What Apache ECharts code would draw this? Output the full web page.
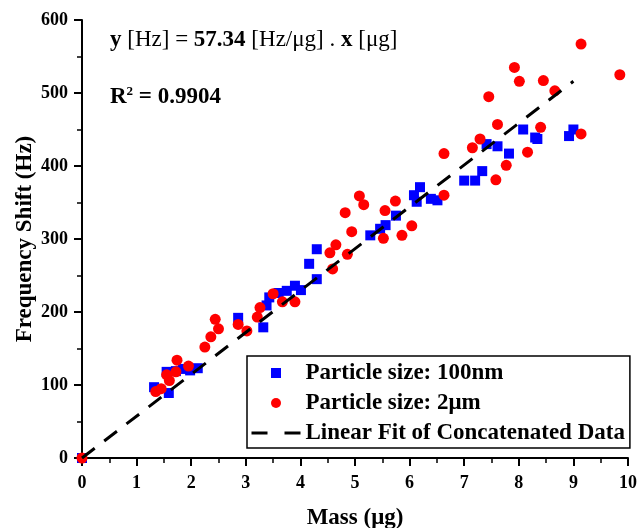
<!DOCTYPE html>
<html>
<head>
<meta charset="utf-8">
<title>Frequency Shift vs Mass</title>
<script src="https://cdn.jsdelivr.net/npm/echarts@6/dist/echarts.min.js"></script>
<style>
  html, body { margin: 0; padding: 0; background: #fff; }
  #chart { width: 638px; height: 528px; }
</style>
</head>
<body>
<div id="chart"></div>
<script>
// Particle size 100 nm: deposited mass (µg) and measured frequency shift (Hz)
const mass100nm = [0, 1.32, 1.59, 1.55, 1.72, 1.85, 1.98, 2.12, 2.86, 3.32,
  3.38, 3.43, 3.60, 3.75, 3.90, 4.01, 4.16, 4.30, 4.30, 5.28,
  5.46, 5.56, 5.75, 6.08, 6.19, 6.13, 6.39, 6.51, 7.00, 7.20,
  7.33, 7.41, 7.61, 7.82, 8.08, 8.30, 8.34, 8.92, 9.00];
const shift100nm = [0, 97, 89, 118, 119, 122, 120, 123, 192, 179,
  209, 220, 226, 229, 236, 230, 266, 286, 245, 305,
  314, 319, 332, 360, 371, 351, 355, 353, 380, 380,
  393, 430, 427, 417, 450, 439, 437, 441, 450];

// Particle size 2 µm
const mass2um = [0, 1.35, 1.45, 1.55, 1.60, 1.72, 1.74, 1.95, 2.25, 2.36,
  2.44, 2.50, 2.86, 3.02, 3.21, 3.26, 3.50, 3.67, 3.90, 4.54,
  4.59, 4.65, 4.82, 4.86, 4.94, 5.08, 5.16, 5.52, 5.55, 5.74,
  5.86, 6.04, 6.63, 6.63, 7.15, 7.29, 7.45, 7.58, 7.61, 7.77,
  7.92, 8.01, 8.16, 8.40, 8.45, 8.66, 9.14, 9.14, 9.85];
const shift2um = [0, 91, 95, 114, 106, 118, 134, 126, 152, 166,
  190, 177, 183, 174, 193, 206, 225, 214, 214, 281,
  259, 292, 336, 279, 310, 359, 347, 301, 339, 352,
  305, 318, 417, 360, 425, 437, 495, 381, 457, 401,
  535, 516, 419, 453, 517, 503, 567, 444, 525];

// Linear fit through the origin of both data sets
const fitSlope = 57.34;       // Hz/µg
const fitRSquared = '0.9904';
const fitMassRange = [0, 9.0]; // µg

const seriesNames = ['Particle size: 100nm', 'Particle size: 2\u03bcm', 'Linear Fit of Concatenated Data'];
const xTicks = { min: 0, max: 10, interval: 1 };
const yTicks = { min: 0, max: 600, interval: 100 };

const zip = (xs, ys) => xs.map((x, i) => [x, ys[i]]);
const fitPoints = fitMassRange.map(m => [m, fitSlope * m]);

const FONT = '"Liberation Serif", "Times New Roman", serif';
const BLUE = '#0000ff';
const RED = '#ff0000';

const axisCommon = {
  axisLine: { show: true, onZero: false, lineStyle: { color: '#000', width: 2 } },
  axisTick: { show: true, inside: false, length: 8, lineStyle: { color: '#000', width: 2 } },
  minorTick: { show: true, splitNumber: 2, length: 5, lineStyle: { color: '#000', width: 1.5 } },
  splitLine: { show: false },
  minorSplitLine: { show: false },
  nameLocation: 'middle',
  nameMoveOverlap: false,
  nameTextStyle: { fontFamily: FONT, fontWeight: 'bold', fontSize: 23, color: '#000' },
  axisLabel: { fontFamily: FONT, fontWeight: 'bold', fontSize: 18, color: '#000' }
};

const chart = echarts.init(document.getElementById('chart'), null, { renderer: 'canvas' });

chart.setOption({
  backgroundColor: '#fff',
  animation: false,
  grid: { left: 82, right: 10, top: 20, bottom: 70, containLabel: false, outerBoundsMode: 'none' },
  xAxis: Object.assign({}, axisCommon, {
    type: 'value',
    min: xTicks.min, max: xTicks.max, interval: xTicks.interval,
    name: 'Mass (\u03bcg)',
    nameGap: 49,
    axisLabel: Object.assign({}, axisCommon.axisLabel, { margin: 16 })
  }),
  yAxis: Object.assign({}, axisCommon, {
    type: 'value',
    min: yTicks.min, max: yTicks.max, interval: yTicks.interval,
    name: 'Frequency Shift (Hz)',
    nameGap: 45,
    axisLabel: Object.assign({}, axisCommon.axisLabel, { margin: 14 })
  }),
  legend: {
    orient: 'vertical',
    left: 247,
    top: 356,
    padding: [5, 5, 3, 3],
    itemGap: 6,
    itemWidth: 49,
    itemHeight: 10,
    itemTextGap: 8,
    symbolKeepAspect: true,
    borderColor: '#000',
    borderWidth: 1.5,
    backgroundColor: '#fff',
    textStyle: { fontFamily: FONT, fontWeight: 'bold', fontSize: 23, lineHeight: 24, color: '#000' },
    data: [
      { name: seriesNames[0], icon: 'path://M0 0H10V10H0Z', itemStyle: { color: BLUE, opacity: 1 } },
      { name: seriesNames[1], icon: 'circle', itemStyle: { color: RED, opacity: 1 } },
      { name: seriesNames[2], itemStyle: { opacity: 0 }, lineStyle: { type: [16, 17], width: 3, color: '#000' } }
    ]
  },
  graphic: [
    {
      type: 'text',
      x: 110, y: 40,
      style: {
        text: '{b|y} [Hz] = {b|57.34} [Hz/\u03bcg] . {b|x} [\u03bcg]',
        font: '23px ' + FONT,
        fill: '#000',
        verticalAlign: 'middle',
        rich: {
          b: { fontWeight: 'bold', fontSize: 23, fontFamily: FONT }
        }
      }
    },
    {
      type: 'text',
      x: 110, y: 97,
      style: {
        text: '{b|R}{sup|2}{b| = ' + fitRSquared + '}',
        font: 'bold 23px ' + FONT,
        fill: '#000',
        verticalAlign: 'middle',
        rich: {
          b: { fontWeight: 'bold', fontSize: 23, lineHeight: 24, fontFamily: FONT, verticalAlign: 'bottom' },
          sup: { fontWeight: 'bold', fontSize: 13, lineHeight: 24, fontFamily: FONT, verticalAlign: 'top' }
        }
      }
    }
  ],
  series: [
    {
      name: seriesNames[0],
      type: 'scatter',
      symbol: 'rect',
      symbolSize: 10,
      itemStyle: { color: BLUE, opacity: 1 },
      data: zip(mass100nm, shift100nm),
      z: 2
    },
    {
      name: seriesNames[1],
      type: 'scatter',
      symbol: 'circle',
      symbolSize: 11,
      itemStyle: { color: RED, opacity: 1 },
      data: zip(mass2um, shift2um),
      z: 3
    },
    {
      name: seriesNames[2],
      type: 'line',
      showSymbol: false,
      symbol: 'none',
      itemStyle: { color: '#000' },
      lineStyle: { color: '#000', width: 3, type: [16, 12] },
      data: fitPoints,
      z: 4
    }
  ]
});
</script>
</body>
</html>
